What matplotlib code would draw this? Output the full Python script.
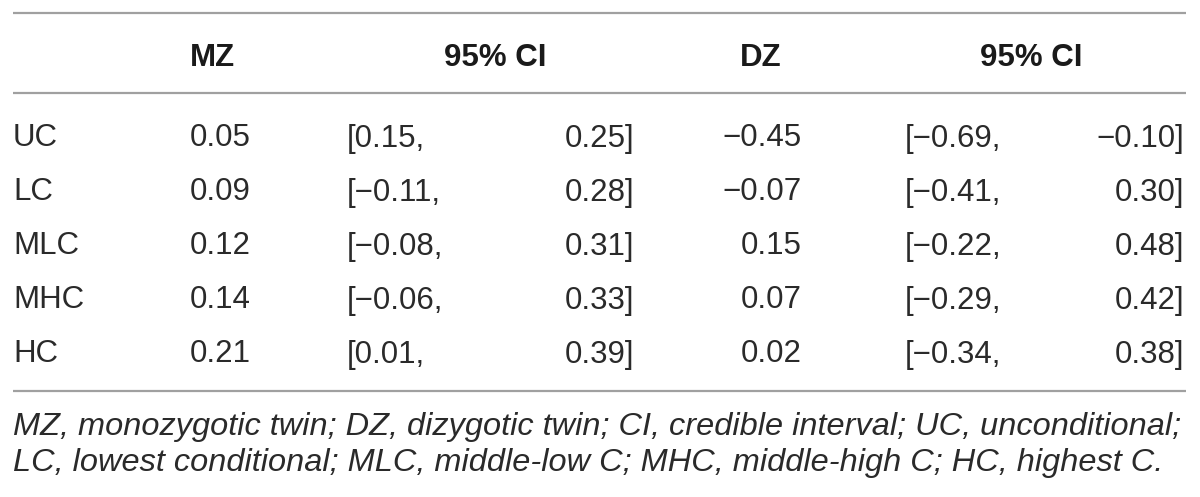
import matplotlib
matplotlib.use("Agg")
import matplotlib.pyplot as plt

# ---- data ----
row_labels = ["UC", "LC", "MLC", "MHC", "HC"]
mz = [0.05, 0.09, 0.12, 0.14, 0.21]
mz_lo = [0.15, -0.11, -0.08, -0.06, 0.01]
mz_hi = [0.25, 0.28, 0.31, 0.33, 0.39]
dz = [-0.45, -0.07, 0.15, 0.07, 0.02]
dz_lo = [-0.69, -0.41, -0.22, -0.29, -0.34]
dz_hi = [-0.10, 0.30, 0.48, 0.42, 0.38]
headers = ["MZ", "95% CI", "DZ", "95% CI"]
footnote = ["MZ, monozygotic twin; DZ, dizygotic twin; CI, credible interval; UC, unconditional;",
            "LC, lowest conditional; MLC, middle-low C; MHC, middle-high C; HC, highest C."]

def fmt(v):
    return f"{v:.2f}".replace("-", "\u2212")

W, H = 1200, 497
fig = plt.figure(figsize=(W / 100, H / 100), dpi=100)
ax = fig.add_axes([0, 0, 1, 1])
ax.set_xlim(0, W)
ax.set_ylim(H, 0)
ax.axis("off")

FONT = "Liberation Sans"
FS = 22.5
TC = "#2a2a2a"
LC = "#a0a0a0"

# rules
for y in (12.7, 93, 391):
    ax.plot([12.7, 1186], [y, y], color=LC, lw=1.6, solid_capstyle="butt")

cap = 11.5
hy = 55 + cap
ax.text(190, hy, headers[0], ha="left", va="baseline", fontsize=FS, fontweight="bold", family=FONT, color="#1a1a1a")
ax.text(495, hy, headers[1], ha="center", va="baseline", fontsize=FS, fontweight="bold", family=FONT, color="#1a1a1a")
ax.text(740, hy, headers[2], ha="left", va="baseline", fontsize=FS, fontweight="bold", family=FONT, color="#1a1a1a")
ax.text(1031, hy, headers[3], ha="center", va="baseline", fontsize=FS, fontweight="bold", family=FONT, color="#1a1a1a")

y0, dy = 135, 54
for i, lab in enumerate(row_labels):
    y = y0 + i * dy + cap
    kw = dict(va="baseline", fontsize=FS, family=FONT, color=TC)
    ax.text(13, y, lab, ha="left", **kw)
    ax.text(190, y, fmt(mz[i]), ha="left", **kw)
    ax.text(347, y, "[" + fmt(mz_lo[i]) + ",", ha="left", **kw)
    ax.text(634, y, fmt(mz_hi[i]) + "]", ha="right", **kw)
    ax.text(802, y, fmt(dz[i]), ha="right", **kw)
    ax.text(905, y, "[" + fmt(dz_lo[i]) + ",", ha="left", **kw)
    ax.text(1184, y, fmt(dz_hi[i]) + "]", ha="right", **kw)

for j, line in enumerate(footnote):
    ax.text(13, 424 + j * 36 + cap, line, ha="left", va="baseline", fontsize=23.4,
            style="italic", family=FONT, color=TC)

fig.savefig("out.png", dpi=100)
